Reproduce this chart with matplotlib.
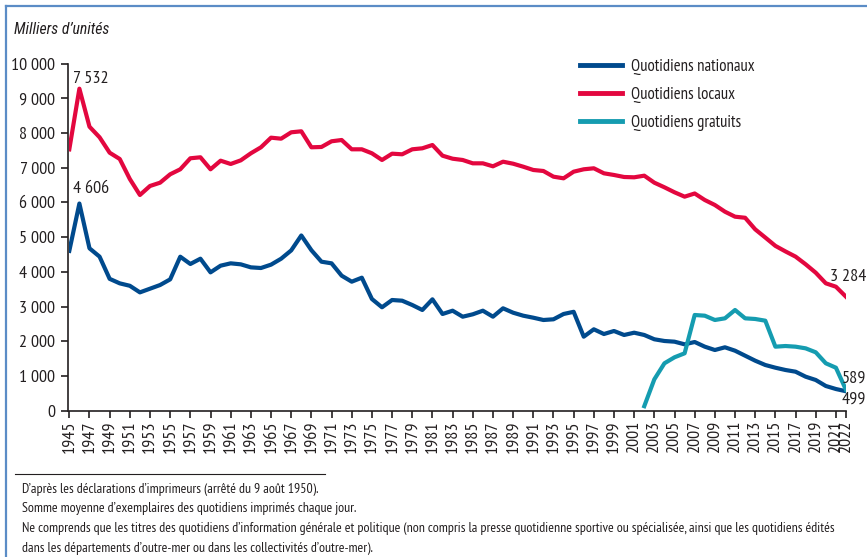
import matplotlib
matplotlib.use("Agg")
import matplotlib.pyplot as plt
from matplotlib.lines import Line2D

plt.rcParams['font.family'] = ['PT Sans Narrow', 'DejaVu Sans']

years = list(range(1945, 2023))

nationaux = [4606, 5970, 4680, 4440, 3800, 3670, 3600, 3410, 3516, 3622, 3785,
             4438, 4228, 4380, 3987, 4179, 4247, 4218, 4131, 4112, 4209, 4380,
             4620, 5050, 4625, 4294, 4247, 3891, 3718, 3833, 3219, 2980, 3190,
             3170, 3046, 2902, 3210, 2787, 2882, 2709, 2778, 2882, 2709, 2951,
             2824, 2738, 2680, 2614, 2634, 2787, 2850, 2133, 2346, 2210, 2297,
             2182, 2248, 2182, 2058, 2009, 1989, 1913, 1980, 1845, 1749, 1827,
             1729, 1585, 1441, 1317, 1239, 1173, 1124, 980, 885, 712, 625, 560]

locaux = [7532, 9280, 8185, 7879, 7435, 7254, 6677, 6216, 6476, 6571, 6813,
          6957, 7274, 7303, 6957, 7205, 7110, 7215, 7418, 7591, 7868, 7839,
          8023, 8052, 7591, 7600, 7764, 7801, 7533, 7533, 7418, 7225, 7407,
          7389, 7533, 7562, 7657, 7349, 7262, 7225, 7129, 7129, 7043, 7176,
          7118, 7032, 6937, 6908, 6744, 6697, 6888, 6957, 6986, 6841, 6793,
          6735, 6726, 6773, 6571, 6438, 6294, 6168, 6260, 6072, 5928, 5735,
          5591, 5560, 5226, 4990, 4750, 4590, 4440, 4219, 3977, 3671, 3573, 3284]

gratuits_years = list(range(2002, 2023))
gratuits = [130, 905, 1366, 1539, 1654, 2758, 2738, 2614, 2662, 2902, 2662,
            2643, 2594, 1845, 1864, 1845, 1797, 1683, 1366, 1239, 600]

series_labels = ['Quotidiens nationaux', 'Quotidiens locaux', 'Quotidiens gratuits']
tick_years = list(range(1945, 2022, 2)) + [2022]
y_ticks = [0, 1000, 2000, 3000, 4000, 5000, 6000, 7000, 8000, 9000, 10000]
y_tick_labels = ['0', '1 000', '2 000', '3 000', '4 000', '5 000', '6 000',
                 '7 000', '8 000', '9 000', '10 000']
label_texts = ['7 532', '4 606', '3 284', '589', '499']
footnotes = [
    "D’après les déclarations d’imprimeurs (arrêté du 9 août 1950).",
    "Somme moyenne d’exemplaires des quotidiens imprimés chaque jour.",
    "Ne comprends que les titres des quotidiens d’information générale et politique (non compris la presse quotidienne sportive ou spécialisée, ainsi que les quotidiens édités",
    "dans les départements d’outre-mer ou dans les collectivités d’outre-mer).",
]

C_NAT = '#004a8d'
C_LOC = '#e3073f'
C_GRA = '#159cb0'
TXT = '#231f20'

W, H = 867, 557
fig = plt.figure(figsize=(W / 100, H / 100), dpi=100)
ax = fig.add_axes([69.3 / W, (H - 410.7) / H, (846 - 69.3) / W, (410.7 - 63.7) / H])

ax.plot(years, nationaux, color=C_NAT, lw=3.0, label=series_labels[0])
ax.plot(years, locaux, color=C_LOC, lw=3.0, label=series_labels[1])
ax.plot(gratuits_years, gratuits, color=C_GRA, lw=3.0, label=series_labels[2])

ax.set_xlim(1945, 2022)
ax.set_ylim(0, 10000)
for s in ['top', 'right']:
    ax.spines[s].set_visible(False)
for s in ['left', 'bottom']:
    ax.spines[s].set_linewidth(1.2)
    ax.spines[s].set_color(TXT)
ax.spines['left'].set_position(('outward', 1))

ax.set_yticks(y_ticks)
ax.set_yticklabels(y_tick_labels)
ax.set_xticks(tick_years)
ax.set_xticklabels([str(y) for y in tick_years], rotation=90)
ax.tick_params(axis='y', direction='out', length=5, width=1.2, color=TXT,
               labelsize=13, labelcolor=TXT, pad=4)
ax.tick_params(axis='x', direction='out', length=5, width=1.2, color=TXT,
               labelsize=13, labelcolor=TXT, pad=2)

fs_ann = 13
ax.text(1945.35, 9560, label_texts[0], fontsize=fs_ann, color=TXT, ha='left', va='center')
ax.text(1945.35, 6400, label_texts[1], fontsize=fs_ann, color=TXT, ha='left', va='center')
ax.text(2024.0, 3850, label_texts[2], fontsize=fs_ann, color=TXT, ha='right', va='center', clip_on=False)
ax.text(2024.0, 915, label_texts[3], fontsize=fs_ann, color=TXT, ha='right', va='center', clip_on=False)
ax.text(2024.0, 310, label_texts[4], fontsize=fs_ann, color=TXT, ha='right', va='center', clip_on=False)

leg = ax.legend(loc='upper left', bbox_to_anchor=(580 / W, 1 - 59 / H),
                bbox_transform=fig.transFigure, frameon=False, fontsize=12,
                handlelength=2.52, handletextpad=0.54, labelspacing=0.72,
                borderpad=0, borderaxespad=0)
for t in leg.get_texts():
    t.set_color(TXT)
for h in leg.get_lines():
    h.set_linewidth(3.5)

fig.text(14 / W, 1 - 29 / H, "Milliers d’unités", fontsize=11.3, style='italic',
         family=['Roboto Condensed', 'DejaVu Sans'], color=TXT, ha='left', va='center')

fig.add_artist(Line2D([15 / W, 325 / W], [1 - 473.5 / H, 1 - 473.5 / H],
                      color=TXT, lw=0.8, transform=fig.transFigure))
for i, line in enumerate(footnotes):
    fig.text(22 / W, 1 - (489 + i * 19.7) / H, line, fontsize=10.0, color=TXT,
             ha='left', va='center')

bc = '#5b8cc6'
fig.add_artist(Line2D([5.5 / W, 5.5 / W], [0, 1 - 6 / H], color=bc, lw=1.6,
                      transform=fig.transFigure))
fig.add_artist(Line2D([5.5 / W, 1], [1 - 6 / H, 1 - 6 / H], color=bc, lw=1.6,
                      transform=fig.transFigure))

fig.savefig('out.png', dpi=100)
